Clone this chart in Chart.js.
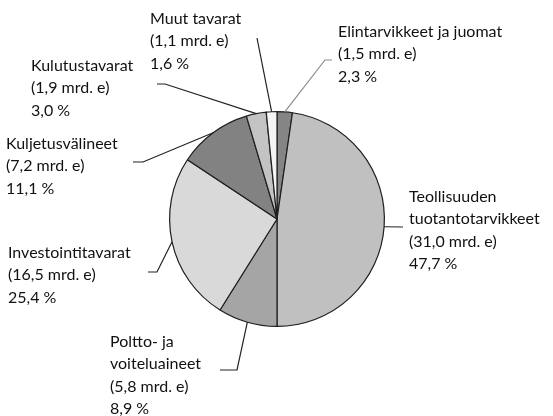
<!DOCTYPE html>
<html>
<head>
<meta charset="utf-8">
<script src="https://cdn.jsdelivr.net/npm/chart.js@4"></script>
<style>
  html, body { margin: 0; padding: 0; background: #fff; }
  #wrap { width: 553px; height: 416px; position: relative; }
</style>
</head>
<body>
<div id="wrap"><canvas id="pie"></canvas></div>
<script>
// Data: import categories, value (mrd. e) and share (%)
const categories = ['Elintarvikkeet ja juomat', 'Teollisuuden tuotantotarvikkeet', 'Poltto- ja voiteluaineet',
    'Investointitavarat', 'Kuljetusvälineet', 'Kulutustavarat', 'Muut tavarat'];
const values = ['1,5', '31,0', '5,8', '16,5', '7,2', '1,9', '1,1'];
const shares = [2.3, 47.7, 8.9, 25.4, 11.1, 3.0, 1.6];
const sliceColors = ['#858585', '#c0c0c0', '#a5a5a5', '#d9d9d9', '#828282', '#c3c3c3', '#f4f4f4'];

// Label text lines (category name may wrap)
const nameLines = [
    ['Elintarvikkeet ja juomat'],
    ['Teollisuuden', 'tuotantotarvikkeet'],
    ['Poltto- ja', 'voiteluaineet'],
    ['Investointitavarat'],
    ['Kuljetusvälineet'],
    ['Kulutustavarat'],
    ['Muut tavarat']
];

// Label placement: text position and leader elbow / end point
const labelLayout = [
    { tx: 338, ty: 32,  elbow: [325, 60],  end: [332, 60],  line: '#8c8c8c' },
    { tx: 409, ty: 197, elbow: null,       end: [403, 227], line: '#222' },
    { tx: 110, ty: 342, elbow: [237, 370], end: [220, 370], line: '#222' },
    { tx: 8,   ty: 253, elbow: [157, 272], end: [148, 272], line: '#222' },
    { tx: 6,   ty: 144, elbow: [143, 162], end: [133, 162], line: '#222' },
    { tx: 31,  ty: 66,  elbow: [165, 84],  end: [157, 84],  line: '#222' },
    { tx: 150, ty: 19,  elbow: null,       end: [257, 38],  line: '#222' }
];

function fmtPct(v) {
    return v.toFixed(1).replace('.', ',') + ' %';
}

const labelPlugin = {
    id: 'outerLabels',
    afterDraw(chart) {
        const ctx = chart.ctx;
        const arcs = chart.getDatasetMeta(0).data;
        ctx.save();
        arcs.forEach(function(arc, i) {
            const p = arc.getProps(['x', 'y', 'startAngle', 'endAngle', 'outerRadius'], true);
            const mid = (p.startAngle + p.endAngle) / 2;
            const sx = p.x + Math.cos(mid) * p.outerRadius;
            const sy = p.y + Math.sin(mid) * p.outerRadius;
            const lay = labelLayout[i];
            ctx.strokeStyle = lay.line;
            ctx.lineWidth = 1.2;
            ctx.beginPath();
            ctx.moveTo(sx, sy);
            if (lay.elbow) ctx.lineTo(lay.elbow[0], lay.elbow[1]);
            ctx.lineTo(lay.end[0], lay.end[1]);
            ctx.stroke();

            const lines = nameLines[i].concat(['(' + values[i] + ' mrd. e)', fmtPct(shares[i])]);
            ctx.fillStyle = '#111';
            ctx.font = '16px Lato';
            ctx.textAlign = 'left';
            ctx.textBaseline = 'middle';
            lines.forEach(function(t, k) {
                ctx.fillText(t, lay.tx, lay.ty + k * 22.2);
            });
        });
        ctx.restore();
    }
};

new Chart(document.getElementById('pie'), {
    type: 'pie',
    data: {
        labels: categories,
        datasets: [{
            data: shares,
            backgroundColor: sliceColors,
            borderColor: '#1e1e1e',
            borderWidth: 1.2
        }]
    },
    options: {
        responsive: true,
        maintainAspectRatio: false,
        animation: false,
        layout: { padding: { left: 169, right: 168, top: 111, bottom: 89 } },
        plugins: {
            legend: { display: false },
            tooltip: { enabled: false }
        }
    },
    plugins: [labelPlugin]
});
</script>
</body>
</html>
